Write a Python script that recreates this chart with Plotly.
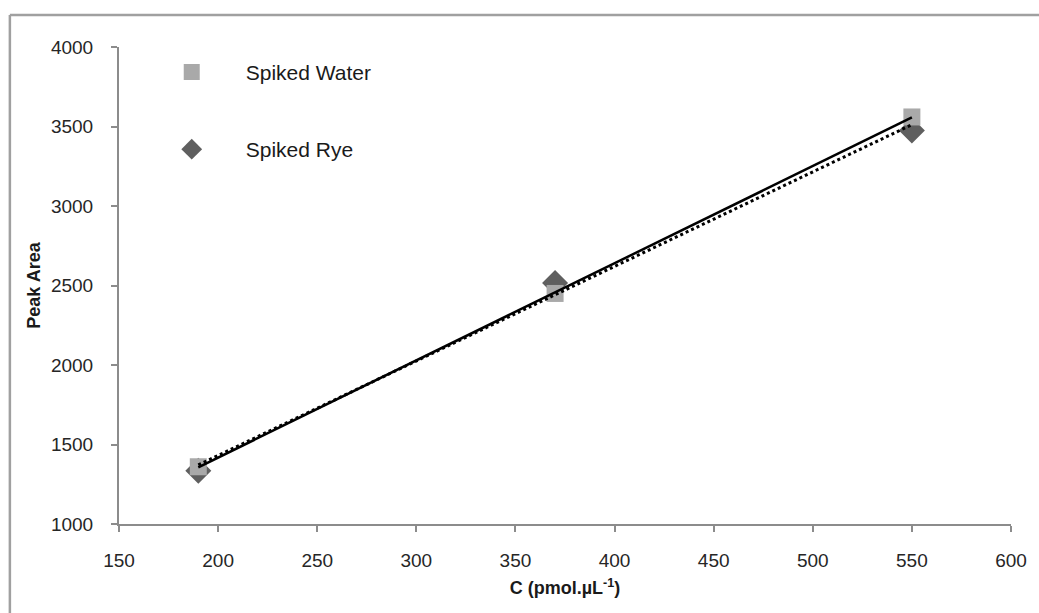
import numpy as np
import plotly.graph_objects as go

# Data
conc = [190, 370, 550]                       # C (pmol.µL-1)
water_area = [1360, 2450, 3560]              # Spiked Water peak area
rye_area = [1335, 2515, 3475]                # Spiked Rye peak area
x_ticks = [150, 200, 250, 300, 350, 400, 450, 500, 550, 600]
y_ticks = [1000, 1500, 2000, 2500, 3000, 3500, 4000]

# Linear trendlines (least squares, as Excel would draw)
xw = np.array(conc, dtype=float)
pw = np.polyfit(xw, water_area, 1)
pr = np.polyfit(xw, rye_area, 1)
xl = np.array([min(conc), max(conc)], dtype=float)

fig = go.Figure()

fig.add_trace(go.Scatter(
    x=conc, y=rye_area, mode="markers", name="Spiked Rye",
    marker=dict(symbol="diamond", size=20, color="#5f5f5f", line=dict(width=0)),
    legendgroup="rye", legendrank=2,
))
fig.add_trace(go.Scatter(
    x=conc, y=water_area, mode="markers", name="Spiked Water",
    marker=dict(symbol="square", size=17, color="#a9a9a9", line=dict(width=0)),
    legendgroup="water", legendrank=1,
))
fig.add_trace(go.Scatter(
    x=xl, y=np.polyval(pr, xl), mode="lines", showlegend=False,
    line=dict(color="black", width=3, dash="dot"), hoverinfo="skip",
))
fig.add_trace(go.Scatter(
    x=xl, y=np.polyval(pw, xl), mode="lines", showlegend=False,
    line=dict(color="black", width=2.5), hoverinfo="skip",
))

axis_common = dict(
    showline=True, linecolor="#8c8c8c", linewidth=2,
    ticks="outside", ticklen=6, tickwidth=2, tickcolor="#8c8c8c",
    showgrid=False, zeroline=False,
    tickfont=dict(family="Liberation Sans, Arial, sans-serif", size=19, color="#262626"),
)

fig.update_xaxes(
    range=[150, 600], tickvals=x_ticks, ticktext=[str(v) for v in x_ticks],
    ticklabelstandoff=12,
    title=dict(text="<b>C (pmol.µL<sup>-1</sup>)</b>", standoff=12,
               font=dict(family="Liberation Sans, Arial, sans-serif", size=18, color="#1a1a1a")),
    **axis_common,
)
fig.update_yaxes(
    range=[1000, 4000], tickvals=y_ticks, ticktext=[str(v) for v in y_ticks],
    ticklabelstandoff=14,
    title=dict(text="<b>Peak Area</b>", standoff=6,
               font=dict(family="Liberation Sans, Arial, sans-serif", size=18, color="#1a1a1a")),
    **axis_common,
)

# outer chart frame (top and left edges visible)
fig.add_shape(type="line", xref="paper", yref="paper",
              x0=-109/891, x1=1.1, y0=1 + 32/477, y1=1 + 32/477,
              line=dict(color="#a0a0a0", width=2.5))
fig.add_shape(type="line", xref="paper", yref="paper",
              x0=-109/891, x1=-109/891, y0=1 + 32/477, y1=-0.3,
              line=dict(color="#a0a0a0", width=2.5))

fig.update_layout(
    width=1039, height=613,
    margin=dict(l=119, r=23, t=47, b=89),
    paper_bgcolor="white", plot_bgcolor="white",
    showlegend=True,
    legend=dict(
        x=0.021, y=0.99, xanchor="left", yanchor="top",
        bgcolor="rgba(0,0,0,0)", borderwidth=0,
        font=dict(family="Liberation Sans, Arial, sans-serif", size=21, color="#1a1a1a"),
        traceorder="grouped", tracegroupgap=47, itemwidth=98,
    ),
)

fig.write_html("out.html")
